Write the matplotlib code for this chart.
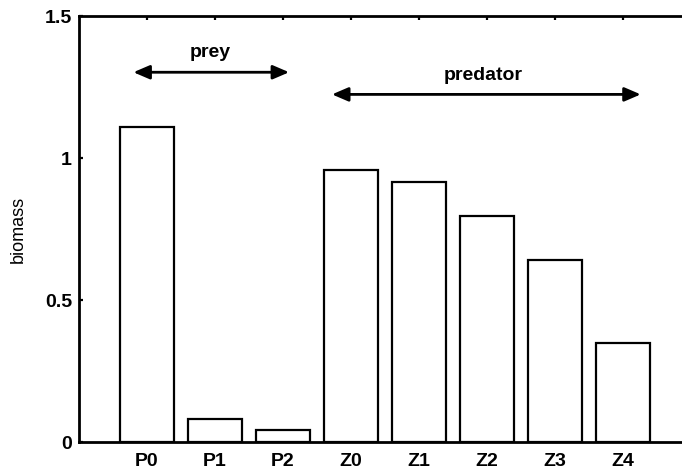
import matplotlib
matplotlib.use("Agg")
import matplotlib.pyplot as plt

# biomass per compartment
names = ["P0", "P1", "P2", "Z0", "Z1", "Z2", "Z3", "Z4"]
biomass = [1.11, 0.081, 0.042, 0.958, 0.917, 0.797, 0.641, 0.350]
yticks = [0, 0.5, 1, 1.5]
ytick_labels = ["0", "0.5", "1", "1.5"]

plt.rcParams['font.family'] = ['Liberation Sans', 'DejaVu Sans']

fig = plt.figure(figsize=(6.82, 4.74), dpi=100)
# axes runs a little past the right edge of the figure
ax = fig.add_axes([0.1158, 0.0675, 0.8975, 0.8987])

x = list(range(1, len(names) + 1))
ax.bar(x, biomass, width=0.8, facecolor="white", edgecolor="black",
       linewidth=1.6, zorder=2)

ax.set_xlim(0, 9)
ax.set_ylim(0, 1.5)
ax.set_xticks(x)
ax.set_xticklabels(names, fontsize=14, fontweight="bold")
ax.set_yticks(yticks)
ax.set_yticklabels(ytick_labels, fontsize=14, fontweight="bold")
ax.tick_params(direction="in", length=3, width=1.6, top=True, right=True)
ax.tick_params(axis="x", pad=8)
ax.tick_params(axis="y", pad=5)
for s in ax.spines.values():
    s.set_linewidth(2.0)
    s.set_zorder(3)

ax.set_ylabel("biomass", fontsize=13)
ax.yaxis.set_label_coords(-0.085, 0.5)

# group brackets
arrow = dict(arrowstyle="<|-|>,head_length=0.7,head_width=0.3",
             color="black", lw=2.0, mutation_scale=14, shrinkA=0, shrinkB=0)
ax.annotate("", xy=(0.8, 1.302), xytext=(3.09, 1.302), arrowprops=arrow)
ax.annotate("", xy=(3.72, 1.224), xytext=(8.26, 1.224), arrowprops=arrow)
ax.text(1.93, 1.373, "prey", ha="center", va="center",
        fontsize=14, fontweight="bold")
ax.text(5.95, 1.292, "predator", ha="center", va="center",
        fontsize=14, fontweight="bold")

fig.savefig("out.png", dpi=100)
